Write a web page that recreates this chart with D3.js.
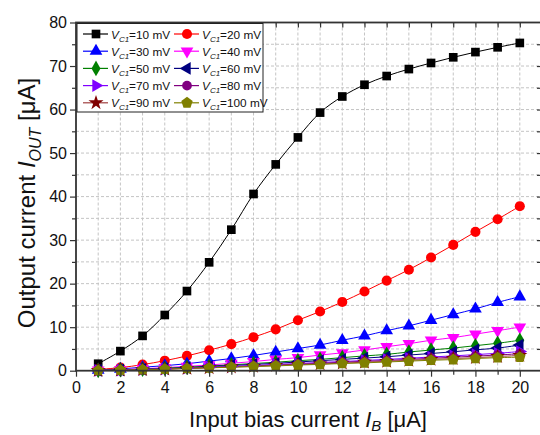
<!DOCTYPE html>
<html>
<head>
<meta charset="utf-8">
<script src="https://cdn.jsdelivr.net/npm/d3@7"></script>
<style>
  body { margin: 0; background: #fff; }
  svg { font-family: "Liberation Sans", Arial, sans-serif; }
</style>
</head>
<body>
<script>
// input bias current I_B (uA)
let xs = [1,2,3,4,5,6,7,8,9,10,11,12,13,14,15,16,17,18,19,20];

// output current for each V_C1 (uA)
let vc10  = [1.6,4.5,8.0,12.8,18.3,24.9,32.4,40.6,47.4,53.6,59.3,63.0,65.7,67.7,69.3,70.7,72.0,73.2,74.3,75.3];
let vc20  = [0.3,0.7,1.4,2.3,3.4,4.7,6.1,7.7,9.5,11.6,13.6,15.8,18.2,20.7,23.2,26.0,28.9,31.9,34.8,37.8];
let vc30  = [0.15,0.4,0.8,1.15,1.6,2.2,2.8,3.5,4.3,5.1,5.9,7.0,8.0,9.2,10.3,11.6,12.9,14.2,15.7,17.0];
let vc40  = [0.1,0.25,0.45,0.7,1.0,1.3,1.7,2.1,2.6,3.0,3.6,4.1,4.75,5.5,6.2,7.0,7.6,8.4,9.2,10.0];
let vc50  = [0.08,0.2,0.35,0.55,0.8,1.05,1.35,1.65,1.95,2.3,2.6,3.0,3.4,3.75,4.3,4.75,5.2,5.75,6.3,7.0];
let vc60  = [0.07,0.18,0.32,0.5,0.7,0.95,1.2,1.45,1.7,2.0,2.3,2.6,2.9,3.2,3.6,3.95,4.35,4.8,5.2,5.9];
let vc70  = [0.06,0.15,0.28,0.42,0.6,0.8,1.0,1.2,1.45,1.65,1.9,2.1,2.35,2.6,2.85,3.15,3.4,3.7,4.0,4.4];
let vc80  = [0.05,0.14,0.25,0.4,0.55,0.72,0.9,1.1,1.3,1.5,1.7,1.95,2.15,2.35,2.6,2.85,3.1,3.35,3.6,3.9];
let vc90  = [0.05,0.13,0.24,0.37,0.52,0.68,0.85,1.0,1.2,1.4,1.55,1.75,1.95,2.15,2.4,2.6,2.8,3.0,3.25,3.5];
let vc100 = [0.04,0.12,0.22,0.35,0.5,0.65,0.8,0.95,1.1,1.3,1.45,1.65,1.8,2.0,2.2,2.4,2.55,2.8,3.0,3.1];

let seriesNames = ["10","20","30","40","50","60","70","80","90","100"];
let seriesValues = [vc10,vc20,vc30,vc40,vc50,vc60,vc70,vc80,vc90,vc100];
let xTicks = [0,2,4,6,8,10,12,14,16,18,20];
let yTicks = [0,10,20,30,40,50,60,70,80];

let colors = ["#000000","#ff0000","#0000ff","#ff00ff","#008000","#000080","#8000ff","#800080","#800000","#808000"];
let lineColors = ["#000000","#ff0000","#0000ff","#ff00ff","#008000","#000080","#8000ff","#800080","#a04040","#808000"];

// pentagon isn't in d3, so make one
let symbolPentagon = {
  draw: function(ctx, size) {
    let r = Math.sqrt(size / 2.378);
    for (let i = 0; i < 5; i++) {
      let a = -Math.PI / 2 + i * 2 * Math.PI / 5;
      if (i === 0) ctx.moveTo(r * Math.cos(a), r * Math.sin(a));
      else ctx.lineTo(r * Math.cos(a), r * Math.sin(a));
    }
    ctx.closePath();
  }
};
// symbol type, rotation, size for each series
let shapes = [
  [d3.symbolSquare, 0, 75],
  [d3.symbolCircle, 0, 80],
  [d3.symbolTriangle, 0, 70],
  [d3.symbolTriangle, 180, 70],
  [d3.symbolDiamond, 0, 70],
  [d3.symbolTriangle, -90, 70],
  [d3.symbolTriangle, 90, 70],
  [d3.symbolCircle, 0, 75],
  [d3.symbolStar, 0, 70],
  [symbolPentagon, 0, 85]
];

let W = 540, H = 435;
let pLeft = 76, pTop = 22.5, pRight = 542, pBottom = 370.7;

let x = d3.scaleLinear().domain([0, 21]).range([pLeft, pRight]);
let y = d3.scaleLinear().domain([0, 80]).range([pBottom, pTop]);

let svg = d3.select("body").append("svg")
  .attr("width", W).attr("height", H);

// grid
svg.append("g").selectAll("line").data(d3.range(1, 21)).join("line")
  .attr("x1", d => x(d)).attr("x2", d => x(d))
  .attr("y1", pTop).attr("y2", pBottom)
  .attr("stroke", "#c4c4c4").attr("stroke-width", 1).attr("stroke-dasharray", "3,2");
svg.append("g").selectAll("line").data(d3.range(5, 80, 5)).join("line")
  .attr("x1", pLeft).attr("x2", pRight)
  .attr("y1", d => y(d)).attr("y2", d => y(d))
  .attr("stroke", "#c4c4c4").attr("stroke-width", 1).attr("stroke-dasharray", "3,2");

// lines and markers
let line = d3.line().curve(d3.curveCatmullRom)
  .x((d, i) => x(xs[i])).y(d => y(d));

seriesValues.forEach(function(vals, k) {
  svg.append("path")
    .attr("d", line(vals))
    .attr("fill", "none")
    .attr("stroke", lineColors[k])
    .attr("stroke-width", 1);
});
seriesValues.forEach(function(vals, k) {
  let sym = d3.symbol().type(shapes[k][0]).size(shapes[k][2]);
  svg.append("g").selectAll("path").data(vals).join("path")
    .attr("d", sym)
    .attr("transform", (d, i) => "translate(" + x(xs[i]) + "," + y(d) + ") rotate(" + shapes[k][1] + ")")
    .attr("fill", colors[k]);
});

// axes
let axisColor = "#333";
svg.append("g").attr("transform", "translate(0," + pBottom + ")")
  .call(d3.axisBottom(x).tickValues(xTicks).tickSize(6).tickPadding(5).tickFormat(d3.format("d")));
svg.append("g").attr("transform", "translate(0," + pBottom + ")")
  .call(d3.axisBottom(x).tickValues(d3.range(1, 21, 2)).tickSize(4).tickFormat(""));
svg.append("g").attr("transform", "translate(" + pLeft + ",0)")
  .call(d3.axisLeft(y).tickValues(yTicks).tickSize(6).tickPadding(3));
svg.append("g").attr("transform", "translate(" + pLeft + ",0)")
  .call(d3.axisLeft(y).tickValues(d3.range(5, 80, 10)).tickSize(4).tickFormat(""));
svg.append("g").attr("transform", "translate(0," + pTop + ")")
  .call(d3.axisBottom(x).tickValues(d3.range(1, 21)).tickSize(5).tickFormat(""));
svg.append("g").attr("transform", "translate(" + pRight + ",0)")
  .call(d3.axisLeft(y).tickValues(d3.range(5, 80, 5)).tickSize(5).tickFormat(""));

svg.selectAll(".domain").remove();
svg.selectAll(".tick line").attr("stroke", axisColor).attr("stroke-width", 1.2);
svg.selectAll(".tick text").attr("font-size", 16).attr("fill", "#111")
  .attr("font-family", "'Liberation Sans', Arial, sans-serif");

// frame
svg.append("rect")
  .attr("x", pLeft).attr("y", pTop)
  .attr("width", pRight - pLeft).attr("height", pBottom - pTop)
  .attr("fill", "none").attr("stroke", axisColor).attr("stroke-width", 1.8);

// legend
let lg = svg.append("g");
lg.append("rect")
  .attr("x", 77).attr("y", 23.5).attr("width", 186).attr("height", 88.5)
  .attr("fill", "#fff").attr("stroke", "#222").attr("stroke-width", 1);
seriesNames.forEach(function(n, k) {
  let col = k % 2, row = Math.floor(k / 2);
  let lx = col === 0 ? 83 : 174;
  let ly = 34 + row * 17.2;
  lg.append("line").attr("x1", lx).attr("x2", lx + 25).attr("y1", ly).attr("y2", ly)
    .attr("stroke", lineColors[k]).attr("stroke-width", 1.2);
  lg.append("path")
    .attr("d", d3.symbol().type(shapes[k][0]).size(shapes[k][2])())
    .attr("transform", "translate(" + (lx + 13) + "," + ly + ") rotate(" + shapes[k][1] + ")")
    .attr("fill", colors[k]);
  let t = lg.append("text").attr("x", lx + 28).attr("y", ly + 4.5).attr("font-size", 11.8).attr("fill", "#111");
  t.append("tspan").attr("font-style", "italic").text("V");
  t.append("tspan").attr("font-style", "italic").attr("font-size", 8).attr("dy", 3).text("C1");
  t.append("tspan").attr("dy", -3).text("=" + n + " mV");
});

// axis titles
let xt = svg.append("text").attr("x", 308).attr("y", 427).attr("text-anchor", "middle")
  .attr("font-size", 22).attr("fill", "#111");
xt.append("tspan").text("Input bias current ");
xt.append("tspan").attr("font-style", "italic").text("I");
xt.append("tspan").attr("font-style", "italic").attr("font-size", 15).attr("dy", 4).text("B");
xt.append("tspan").attr("dy", -4).text(" [\u03bcA]");

let yt = svg.append("text").attr("transform", "translate(35,203) rotate(-90)")
  .attr("text-anchor", "middle").attr("font-size", 24).attr("fill", "#111");
yt.append("tspan").text("Output current ");
yt.append("tspan").attr("font-style", "italic").text("I");
yt.append("tspan").attr("font-style", "italic").attr("font-size", 16).attr("dy", 6).text("OUT");
yt.append("tspan").attr("dy", -6).text(" [\u03bcA]");
</script>
</body>
</html>
